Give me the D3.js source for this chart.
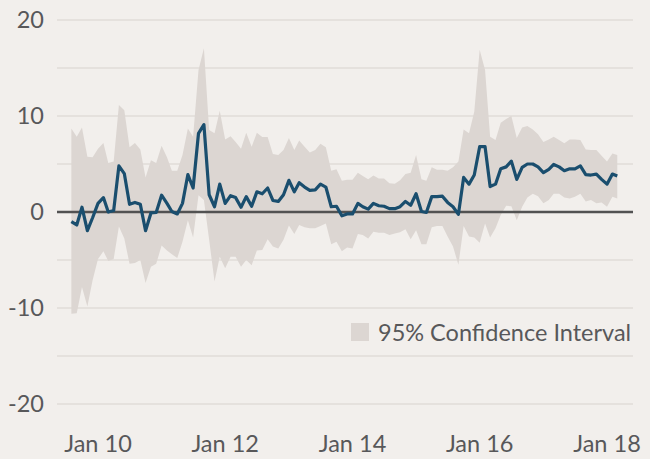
<!DOCTYPE html>
<html>
<head>
<meta charset="utf-8">
<script src="https://cdn.jsdelivr.net/npm/d3@7"></script>
<style>
  html, body { margin: 0; padding: 0; background: #f2efec; }
  svg { display: block; }
  text { font-family: Lato, "Open Sans", sans-serif; fill: #58585a; }
</style>
</head>
<body>
<svg id="chart" width="650" height="459"></svg>
<script>
// monthly series, Aug 2009 to Mar 2018
const startMonth = "2009-08";

const estimate = [
  -1.0, -1.35, 0.5, -1.95, -0.6, 0.9, 1.5, 0.0, 0.15, 4.8,
  4.0, 0.8, 1.0, 0.8, -1.95, -0.1, -0.05, 1.75, 0.9, 0.05,
  -0.2, 0.9, 3.9, 2.5, 8.2, 9.1, 1.8, 0.55, 2.9, 0.9,
  1.7, 1.5, 0.5, 1.6, 0.6, 2.1, 1.9, 2.5, 1.2, 1.1,
  1.8, 3.3, 2.1, 3.05, 2.6, 2.25, 2.3, 2.9, 2.6, 0.55,
  0.6, -0.4, -0.2, -0.2, 0.9, 0.55, 0.3, 0.9, 0.65, 0.6,
  0.35, 0.35, 0.55, 1.1, 0.7, 1.9, 0.05, -0.05, 1.6, 1.6,
  1.65, 1.0, 0.55, -0.25, 3.6, 2.9, 3.85, 6.8, 6.8, 2.65,
  2.9, 4.5, 4.7, 5.3, 3.4, 4.65, 5.0, 5.0, 4.7, 4.1,
  4.45, 4.95, 4.7, 4.3, 4.5, 4.5, 4.8, 3.9, 3.85, 3.95,
  3.4, 2.9, 3.95, 3.75
];

const upper = [
  8.7, 7.85, 8.8, 5.75, 5.7, 6.6, 7.2, 5.1, 5.25, 11.15,
  10.6, 6.75, 7.2, 6.5, 3.6, 5.4, 5.1, 6.9, 5.7, 4.3,
  4.3, 5.95, 8.7, 7.85, 14.8, 17.05, 8.55, 8.2, 10.55, 7.55,
  7.9, 7.3, 6.6, 8.25, 6.8, 8.25, 7.8, 7.8, 6.05, 5.95,
  6.45, 7.7, 6.45, 7.45, 6.8, 6.2, 6.45, 7.1, 6.75, 4.3,
  4.45, 3.25, 3.35, 3.35, 4.1, 3.75, 3.4, 3.8, 3.5, 3.5,
  3.0, 2.95, 3.3, 3.95, 4.1, 5.95, 3.4, 3.25, 4.65, 4.4,
  4.4, 4.3, 4.65, 5.25, 8.6, 8.2, 10.45, 16.9, 14.8, 7.85,
  7.5, 9.3, 9.7, 10.0, 7.7, 8.8, 8.95, 8.6, 8.1, 7.3,
  7.55, 7.85, 7.5, 7.15, 7.55, 7.55, 7.5, 6.5, 6.45, 6.45,
  5.85, 5.25, 6.1, 5.95
];

const lower = [
  -10.6, -10.55, -7.8, -9.85, -7.1, -4.9, -4.1, -5.1, -4.9, -1.5,
  -2.75, -5.4, -5.3, -5.0, -7.4, -5.7, -5.4, -3.5, -4.0, -4.4,
  -4.8, -3.1, -0.85, -2.65, 1.75, 1.25, -2.9, -7.25, -4.65, -5.85,
  -4.65, -4.65, -5.7, -5.0, -5.55, -4.0, -3.95, -2.85, -3.6, -3.8,
  -2.9, -1.4, -2.3, -1.35, -1.6, -1.7, -1.7, -1.45, -1.2, -3.35,
  -3.1, -4.1, -3.7, -3.8, -2.3, -2.4, -2.75, -2.05, -2.15, -2.15,
  -2.4, -2.25, -2.1, -1.8, -2.85, -1.9, -3.35, -3.35, -1.6, -1.45,
  -1.45, -2.55, -3.6, -5.5, -1.45, -2.55, -2.65, -3.2, -1.2, -2.65,
  -1.7, -0.3, 0.65, 0.6, -0.85, 0.55, 1.5, 1.9, 1.65, 0.9,
  1.25, 1.9, 1.9, 1.5, 1.4, 1.6, 1.9, 1.1, 1.25, 0.9,
  1.0, 0.55, 1.6, 1.4
];

const yTicks = [-20, -10, 0, 10, 20];
const yGrid = [-20, -15, -10, -5, 5, 10, 15, 20];
const xTickLabels = ["Jan 10", "Jan 12", "Jan 14", "Jan 16", "Jan 18"];
const xTickDates = ["2010-01", "2012-01", "2014-01", "2016-01", "2018-01"];
const legendLabel = "95% Confidence Interval";

const parseMonth = d3.timeParse("%Y-%m");
const first = parseMonth(startMonth);
const rows = estimate.map((v, i) => ({
  date: d3.timeMonth.offset(first, i),
  value: v,
  hi: upper[i],
  lo: lower[i],
}));

const COLORS = {
  band: "#dcd6d2",
  line: "#1a4e6e",
  grid: "#e0dcd8",
  zero: "#525252",
};
const fontSize = "23.5px";

const svg = d3.select("#chart");

const x = d3.scaleTime()
  .domain([parseMonth("2010-01"), parseMonth("2018-01")])
  .range([98, 607]);

const y = d3.scaleLinear()
  .domain([-20, 20])
  .range([404, 20]);

const gridLeft = 57;
const gridRight = 633;

svg.append("g")
  .selectAll("line")
  .data(yGrid)
  .join("line")
  .attr("x1", gridLeft)
  .attr("x2", gridRight)
  .attr("y1", (d) => y(d))
  .attr("y2", (d) => y(d))
  .attr("stroke", COLORS.grid)
  .attr("stroke-width", 1.5);

svg.append("g")
  .selectAll("text")
  .data(yTicks)
  .join("text")
  .attr("x", 44)
  .attr("y", (d) => y(d))
  .attr("dy", "0.35em")
  .attr("text-anchor", "end")
  .style("font-size", fontSize)
  .text((d) => d);

const area = d3.area()
  .x((d) => x(d.date))
  .y0((d) => y(d.lo))
  .y1((d) => y(d.hi));

svg.append("path")
  .datum(rows)
  .attr("d", area)
  .attr("fill", COLORS.band);

svg.append("line")
  .attr("x1", gridLeft)
  .attr("x2", gridRight)
  .attr("y1", y(0))
  .attr("y2", y(0))
  .attr("stroke", COLORS.zero)
  .attr("stroke-width", 2.5);

const line = d3.line()
  .x((d) => x(d.date))
  .y((d) => y(d.value));

svg.append("path")
  .datum(rows)
  .attr("d", line)
  .attr("fill", "none")
  .attr("stroke", COLORS.line)
  .attr("stroke-width", 3.2)
  .attr("stroke-linejoin", "round");

svg.append("g")
  .selectAll("text")
  .data(xTickDates)
  .join("text")
  .attr("x", (d) => x(parseMonth(d)))
  .attr("y", 452)
  .attr("text-anchor", "middle")
  .style("font-size", fontSize)
  .text((d, i) => xTickLabels[i]);

const legend = svg.append("g").attr("transform", "translate(351, 323)");
legend.append("rect")
  .attr("width", 18)
  .attr("height", 18)
  .attr("fill", COLORS.band);
legend.append("text")
  .attr("x", 27)
  .attr("y", 18)
  .style("font-size", fontSize)
  .text(legendLabel);
</script>
</body>
</html>
